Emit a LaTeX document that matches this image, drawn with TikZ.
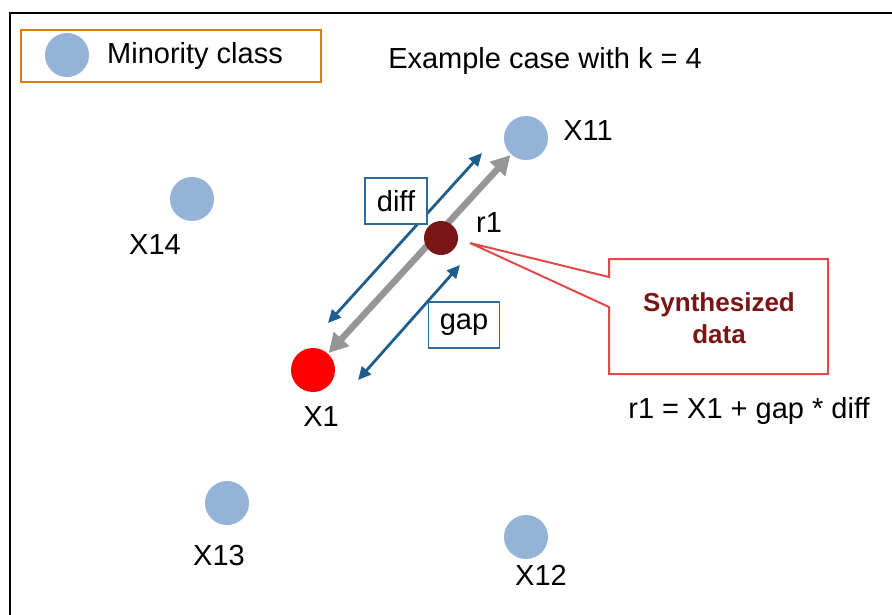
\documentclass[tikz,border=0pt]{standalone}
\usepackage{fontspec}
\setmainfont{Liberation Sans}
\usetikzlibrary{arrows.meta}
\definecolor{minblue}{HTML}{95B3D7}
\definecolor{arrblue}{HTML}{1F5E8C}
\definecolor{boxblue}{HTML}{2E6A9A}
\definecolor{legorange}{HTML}{E07B10}
\definecolor{synred}{HTML}{7A1515}
\definecolor{callred}{HTML}{E04A4A}
\definecolor{arrgray}{HTML}{969696}
\tikzset{
  pt/.style={circle, fill=minblue, inner sep=0pt, minimum size=44pt},
  lbl/.style={font=\fontsize{29}{31}\selectfont, inner sep=0pt},
  tagbox/.style={draw=boxblue, line width=1.3pt, fill=white, font=\fontsize{29}{31}\selectfont, inner sep=0pt, minimum width=62pt, minimum height=46pt},
  bluearr/.style={draw=arrblue, line width=2.8pt, {Triangle[length=13pt,width=12pt]}-{Triangle[length=13pt,width=12pt]}},
}
\begin{document}
\begin{tikzpicture}[x=1pt,y=-1pt]
\useasboundingbox (0,0) rectangle (892,615);
\clip (0,0) rectangle (892,615);
\fill[white] (0,0) rectangle (892,615);
% frame
\draw[line width=1.8pt] (900,13) -- (10,13) -- (10,625);
% legend
\node[draw=legorange, line width=2pt, minimum width=300pt, minimum height=52pt, inner sep=0pt] (legend) at (171,56) {};
\node[pt] (legdot) at (67,55) {};
\node[lbl, anchor=west] (legtxt) at (107,56) {Minority class};
\node[lbl] (title) at (545,61) {Example case with k = 4};
% points
\node[pt] (X11) at (526,138) {};
\node[lbl] (X11l) at (588,131) {X11};
\node[pt] (X14) at (192,199) {};
\node[lbl] (X14l) at (155,245) {X14};
\node[pt] (X13) at (227,503) {};
\node[lbl] (X13l) at (219,556) {X13};
\node[pt] (X12) at (526,537) {};
\node[lbl] (X12l) at (541,575) {X12};
\node[circle, fill=red, inner sep=0pt, minimum size=44pt] (X1) at (313,370) {};
\node[lbl] (X1l) at (321,417) {X1};
% gray arrow
\draw[draw=arrgray, line width=6.5pt, {Triangle[length=19pt,width=20pt]}-{Triangle[length=19pt,width=20pt]}, shorten <=1pt, shorten >=1pt] (X1) -- (X11);
\node[circle, fill=synred, inner sep=0pt, minimum size=34pt] (r1) at (441,238) {};
\node[lbl] (r1l) at (489,223) {r1};
% blue arrows
\coordinate (d1) at (482,153);
\coordinate (d2) at (328,323);
\coordinate (g1) at (460,265);
\coordinate (g2) at (358,380);
\draw[bluearr] (d2) -- (d1);
\draw[bluearr] (g2) -- (g1);
\node[tagbox] (diff) at (396,201) {diff};
\node[tagbox, minimum width=71pt] (gap) at (464,325) {gap};
% callout
\coordinate (tip) at (470,243);
\draw[draw=callred, line width=2pt, fill=white, line join=miter] (609,259) -- (609,277) -- (tip) -- (609,307) -- (609,374) -- (828,374) -- (828,259) -- cycle;
\node[font=\fontsize{26}{32}\selectfont\bfseries, text=synred, align=center, inner sep=0pt] (syn) at (719,318) {Synthesized\\data};
\node[lbl] (formula) at (749,411) {r1 = X1 + gap * diff};
\end{tikzpicture}
\end{document}
